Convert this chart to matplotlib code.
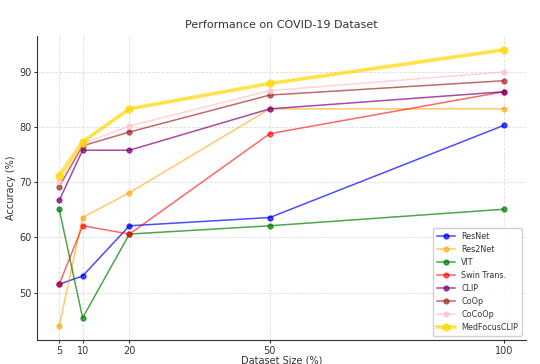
import matplotlib
matplotlib.use('Agg')
import matplotlib.pyplot as plt

sizes = [5, 10, 20, 50, 100]

resnet = [51.5, 53.0, 62.1, 63.6, 80.3]
res2net = [43.9, 63.6, 68.1, 83.3, 83.3]
vit = [65.1, 45.4, 60.6, 62.1, 65.1]
swin = [51.5, 62.1, 60.6, 78.8, 86.4]
clip = [66.7, 75.8, 75.8, 83.3, 86.4]
coop = [69.2, 76.6, 79.1, 85.8, 88.4]
cocoop = [70.0, 77.0, 80.2, 86.6, 90.0]
medfocus = [71.2, 77.3, 83.3, 87.9, 94.0]

names = ['ResNet', 'Res2Net', 'VIT', 'Swin Trans.', 'CLIP', 'CoOp', 'CoCoOp', 'MedFocusCLIP']
series = [resnet, res2net, vit, swin, clip, coop, cocoop, medfocus]
colors = ['blue', 'orange', 'green', 'red', 'purple', 'brown', 'pink', 'gold']
alphas = [0.7, 0.6, 0.7, 0.6, 0.7, 0.7, 0.7, 0.7]

plt.rcParams['text.color'] = '#333333'
plt.rcParams['axes.labelcolor'] = '#333333'
plt.rcParams['xtick.color'] = '#333333'
plt.rcParams['ytick.color'] = '#333333'

fig = plt.figure(figsize=(5.4, 3.64), dpi=100)
ax = fig.add_axes([0.0685, 0.066, 0.9055, 0.835])

for name, vals, col, a in zip(names, series, colors, alphas):
    if name == 'MedFocusCLIP':
        ax.plot(sizes, vals, marker='o', color=col, alpha=a, linewidth=2.6, markersize=5, label=name)
    else:
        ax.plot(sizes, vals, marker='o', color=col, alpha=a, linewidth=1.1, markersize=3.5, label=name)

ax.set_title('Performance on COVID-19 Dataset', fontsize=8, pad=6)
ax.set_xlabel('Dataset Size (%)', fontsize=7, labelpad=0)
ax.set_ylabel('Accuracy (%)', fontsize=7, labelpad=2)
ax.set_xticks(sizes)
ax.set_yticks([50, 60, 70, 80, 90])
ax.tick_params(labelsize=7, length=2.5, pad=1.5)
ax.grid(True, linestyle='--', color='#dddddd', linewidth=0.6)
ax.spines['top'].set_visible(False)
ax.spines['right'].set_visible(False)
ax.spines['left'].set_color('#333333')
ax.spines['bottom'].set_color('#333333')

leg = ax.legend(loc='lower right', fontsize=5.8, handlelength=2.2, labelspacing=0.5,
                borderpad=0.5, framealpha=0.9, edgecolor='#cccccc')

fig.savefig('out.png', dpi=100)
